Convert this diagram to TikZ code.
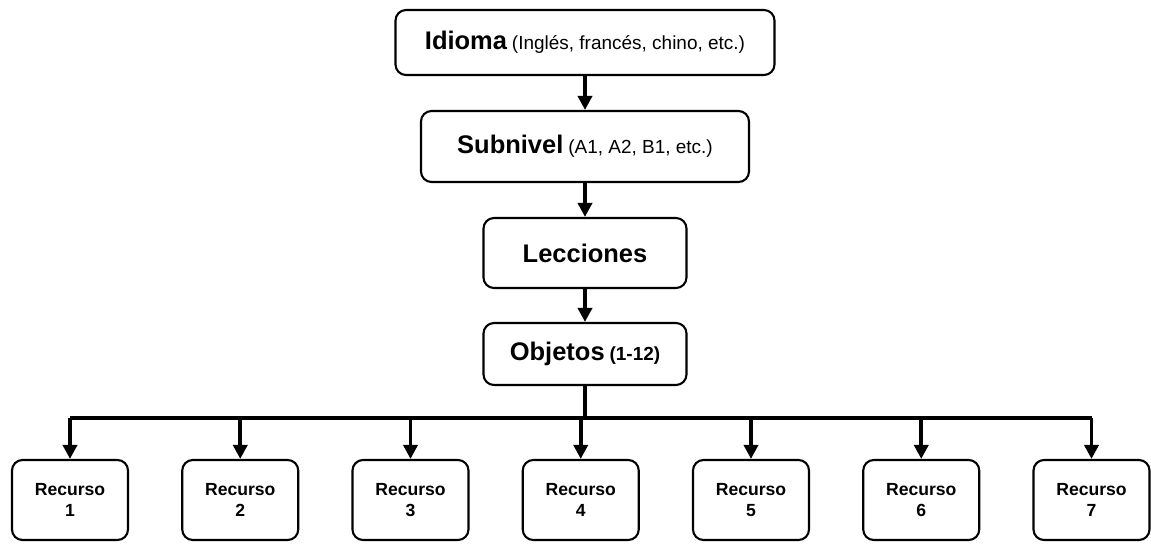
\documentclass[tikz,border=0pt]{standalone}
\usepackage{fontspec}
\setmainfont{Liberation Sans}
\usetikzlibrary{positioning,arrows.meta}
\newcommand{\bigtxt}{\fontsize{14.5}{17}\selectfont\bfseries}
\newcommand{\smalltxt}{\fontsize{10.8}{13}\selectfont}

\begin{document}
\begin{tikzpicture}[
    box/.style={draw,line width=1.2pt,rounded corners=6pt,align=center,inner sep=2pt},
    recbox/.style={box,minimum width=2.32cm,minimum height=1.6cm,
      font=\fontsize{10}{11.5}\selectfont\bfseries},
    flow/.style={line width=2pt,-{Triangle[width=8pt,length=8pt]}}
  ]
  \useasboundingbox (0,0) rectangle (23.02,-11.02);
  % main chain
  \node[box,minimum width=7.58cm,minimum height=1.3cm] (idioma) at (11.7,-0.85)
    {{\bigtxt Idioma} {\smalltxt (Inglés, francés, chino, etc.)}};
  \node[box,minimum width=6.56cm,minimum height=1.42cm] (subnivel) at (11.7,-2.93)
    {{\bigtxt Subnivel} {\smalltxt (A1, A2, B1, etc.)}};
  \node[box,minimum width=4.06cm,minimum height=1.4cm] (lecciones) at (11.7,-5.06)
    {\bigtxt Lecciones};
  \node[box,minimum width=4.06cm,minimum height=1.24cm] (objetos) at (11.7,-7.08)
    {{\bigtxt Objetos} {\smalltxt\bfseries (1-12)}};
  \draw[flow] (idioma) -- (subnivel);
  \draw[flow] (subnivel) -- (lecciones);
  \draw[flow] (lecciones) -- (objetos);
  % resources
  \foreach \i in {1,...,7}{
    \node[recbox] (rec\i) at ({1.40+3.405*(\i-1)},-10.0) {Recurso\\\i};
  }
  \coordinate (bus) at (0,-8.36);
  \draw[line width=2pt] (objetos.south) -- (objetos.south |- bus);
  \draw[line width=2pt] (rec1.north |- bus) -- (rec7.north |- bus);
  \foreach \i in {1,...,7}{
    \draw[flow] (rec\i.north |- bus) -- (rec\i.north);
  }
\end{tikzpicture}
\end{document}
